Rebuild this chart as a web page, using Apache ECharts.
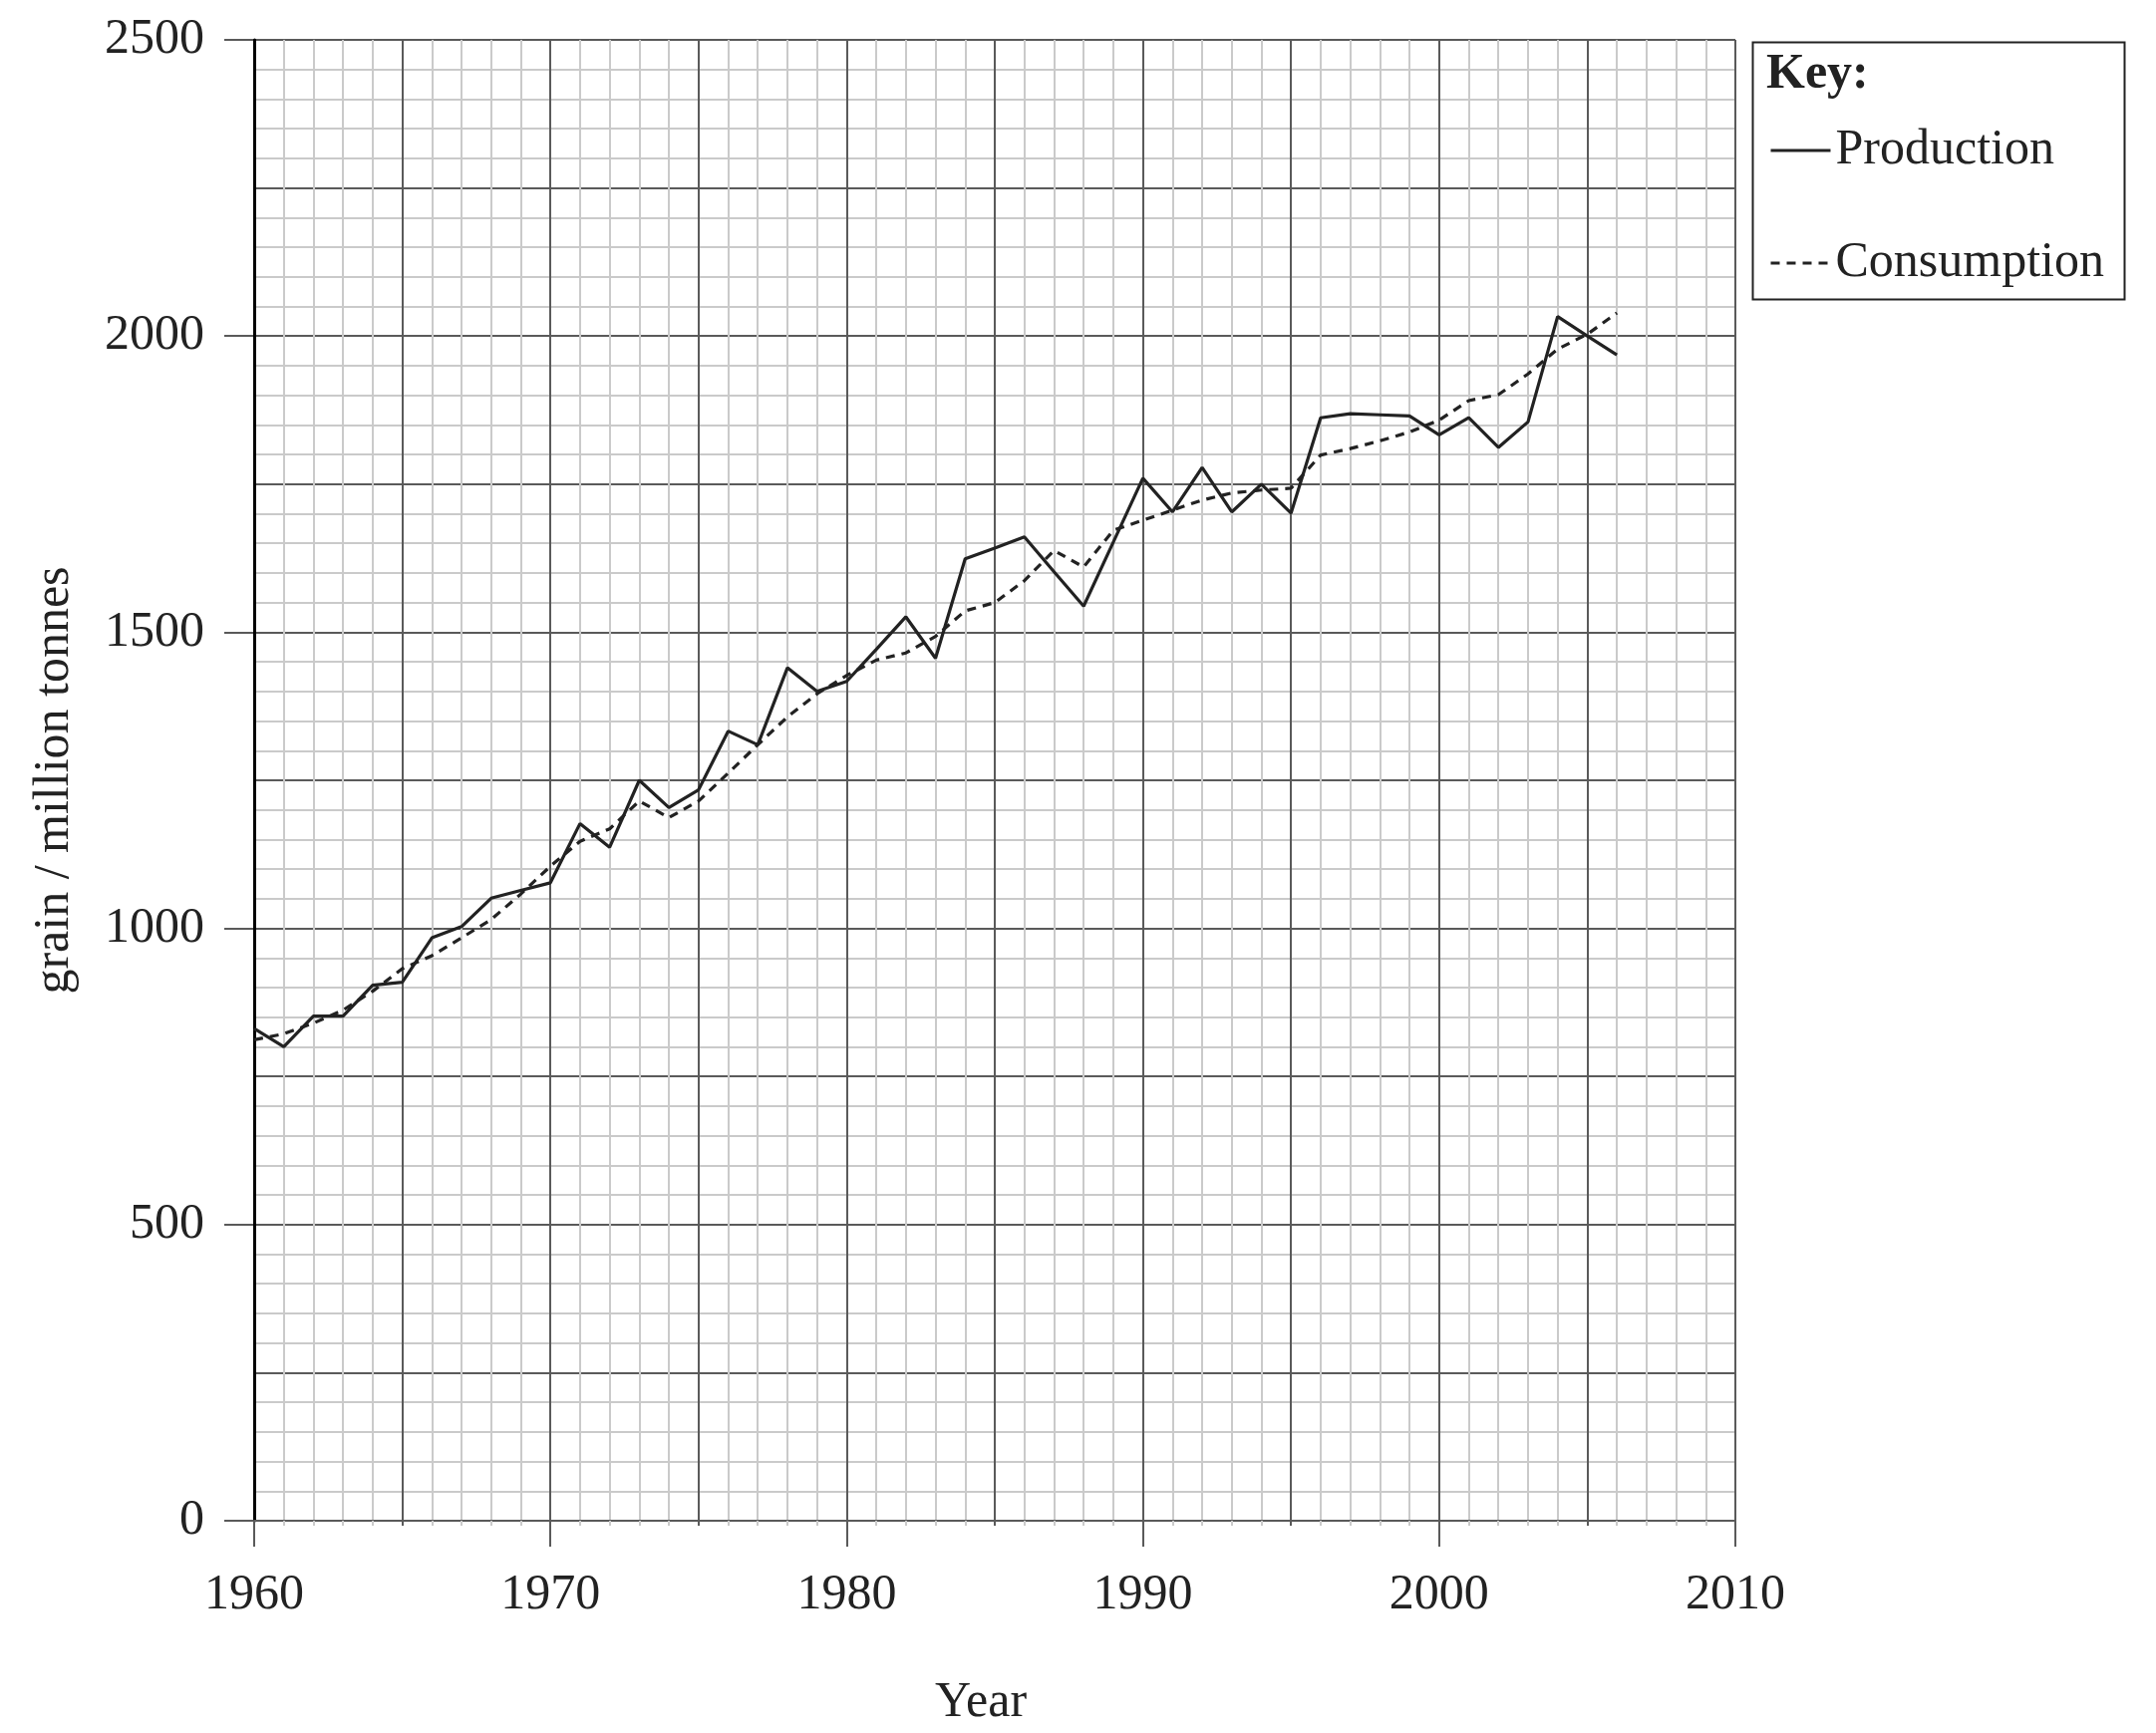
<!DOCTYPE html>
<html>
<head>
<meta charset="utf-8">
<script src="https://cdn.jsdelivr.net/npm/echarts@6/dist/echarts.min.js"></script>
<style>
  html, body { margin: 0; padding: 0; background: #fff; }
  #chart { width: 2163px; height: 1739px; }
</style>
</head>
<body>
<div id="chart"></div>
<script>
// grain production / consumption, million tonnes, 1960-2006
var years = [1960,1961,1962,1963,1964,1965,1966,1967,1968,1969,
             1970,1971,1972,1973,1974,1975,1976,1977,1978,1979,
             1980,1981,1982,1983,1984,1985,1986,1987,1988,1989,
             1990,1991,1992,1993,1994,1995,1996,1997,1998,1999,
             2000,2001,2002,2003,2004,2005,2006];

var production = [831,800,852,852,904,909,984,1003,1051,1064,
                  1077,1177,1137,1250,1204,1234,1333,1310,1440,1400,
                  1417,1471,1526,1456,1624,1642,1661,1602,1544,1652,
                  1760,1703,1778,1703,1750,1701,1862,1869,1867,1865,
                  1833,1862,1812,1855,2033,2000,1968];

var consumption = [812,822,840,862,894,932,954,984,1015,1058,
                   1105,1147,1168,1215,1187,1215,1262,1310,1357,1396,
                   1427,1453,1465,1493,1536,1550,1587,1638,1610,1672,
                   1689,1706,1723,1735,1740,1743,1799,1810,1823,1838,
                   1858,1891,1901,1936,1978,2003,2039];

var xTicks = [1960, 1970, 1980, 1990, 2000, 2010];
var yTicks = [0, 500, 1000, 1500, 2000, 2500];

function pairs(vals) {
    return years.map(function (y, i) { return [y, vals[i]]; });
}

var FONT = '"Liberation Serif", "Times New Roman", serif';
var INK = '#222';
var MAJOR = '#5a5a5a';
var MINOR = '#cacaca';

var myChart = echarts.init(document.getElementById('chart'));
var option = {
    backgroundColor: '#fff',
    animation: false,
    grid: {
        left: 255,
        top: 40,
        right: 422,
        bottom: 212
    },
    xAxis: [
        {
            type: 'value',
            min: xTicks[0],
            max: xTicks[xTicks.length - 1],
            interval: 5,
            name: 'Year',
            nameLocation: 'middle',
            nameGap: 158,
            nameTextStyle: { fontFamily: FONT, fontSize: 50, color: INK, padding: [0, 28, 0, 0] },
            axisLine: { show: true, onZero: false, lineStyle: { color: MAJOR, width: 2 } },
            axisTick: { show: true, length: 5, lineStyle: { color: MAJOR, width: 2 } },
            minorTick: { show: true, splitNumber: 5, length: 5, lineStyle: { color: MINOR, width: 2 } },
            axisLabel: { show: false },
            splitLine: { show: true, lineStyle: { color: MAJOR, width: 2 } },
            minorSplitLine: { show: true, lineStyle: { color: MINOR, width: 2 } },
            z: 1
        },
        {
            type: 'value',
            position: 'bottom',
            min: xTicks[0],
            max: xTicks[xTicks.length - 1],
            interval: 10,
            axisLine: { show: false },
            axisTick: { show: true, length: 26, lineStyle: { color: MAJOR, width: 2 } },
            axisLabel: {
                margin: 50,
                fontFamily: FONT, fontSize: 50, color: INK,
                formatter: function (v) { return xTicks.indexOf(v) >= 0 ? String(v) : ''; }
            },
            splitLine: { show: false }
        }
    ],
    yAxis: [
        {
            type: 'value',
            min: yTicks[0],
            max: yTicks[yTicks.length - 1],
            interval: 250,
            name: 'grain / million tonnes',
            nameLocation: 'middle',
            nameGap: 175,
            nameTextStyle: { fontFamily: FONT, fontSize: 50, color: INK },
            axisLine: { show: true, onZero: false, lineStyle: { color: '#000', width: 3 } },
            axisTick: { show: false },
            axisLabel: { show: false },
            splitLine: { show: true, lineStyle: { color: MAJOR, width: 2 } },
            minorTick: { show: false, splitNumber: 5 },
            minorSplitLine: { show: true, lineStyle: { color: MINOR, width: 2 } },
            z: 1
        },
        {
            type: 'value',
            position: 'left',
            min: yTicks[0],
            max: yTicks[yTicks.length - 1],
            interval: 500,
            axisLine: { show: false },
            axisTick: { show: true, length: 30, lineStyle: { color: MAJOR, width: 2 } },
            axisLabel: {
                margin: 50,
                fontFamily: FONT, fontSize: 50, color: INK,
                formatter: function (v) { return yTicks.indexOf(v) >= 0 ? String(v) : ''; }
            },
            splitLine: { show: false }
        }
    ],
    legend: {
        orient: 'vertical',
        left: 1770,
        top: 121,
        itemWidth: 60,
        itemHeight: 20,
        itemGap: 63,
        itemStyle: { opacity: 0 },
        lineStyle: { width: 3 },
        textStyle: { fontFamily: FONT, fontSize: 50, color: INK },
        data: ['Production', 'Consumption']
    },
    graphic: [
        {
            type: 'rect',
            left: 1756,
            top: 40,
            shape: { width: 373, height: 258 },
            style: { fill: 'none', stroke: INK, lineWidth: 2 },
            z: 10
        },
        {
            type: 'text',
            left: 1772,
            top: 50,
            style: { text: 'Key:', font: 'bold 50px ' + FONT, fill: INK },
            z: 10
        }
    ],
    series: [
        {
            name: 'Production',
            type: 'line',
            xAxisIndex: 0,
            yAxisIndex: 0,
            symbol: 'none',
            lineStyle: { color: INK, width: 3.2 },
            itemStyle: { color: INK },
            data: pairs(production),
            z: 5
        },
        {
            name: 'Consumption',
            type: 'line',
            xAxisIndex: 0,
            yAxisIndex: 0,
            symbol: 'none',
            lineStyle: { color: INK, width: 3.2, type: [9, 7] },
            itemStyle: { color: INK },
            data: pairs(consumption),
            z: 5
        }
    ]
};
myChart.setOption(option);
</script>
</body>
</html>
